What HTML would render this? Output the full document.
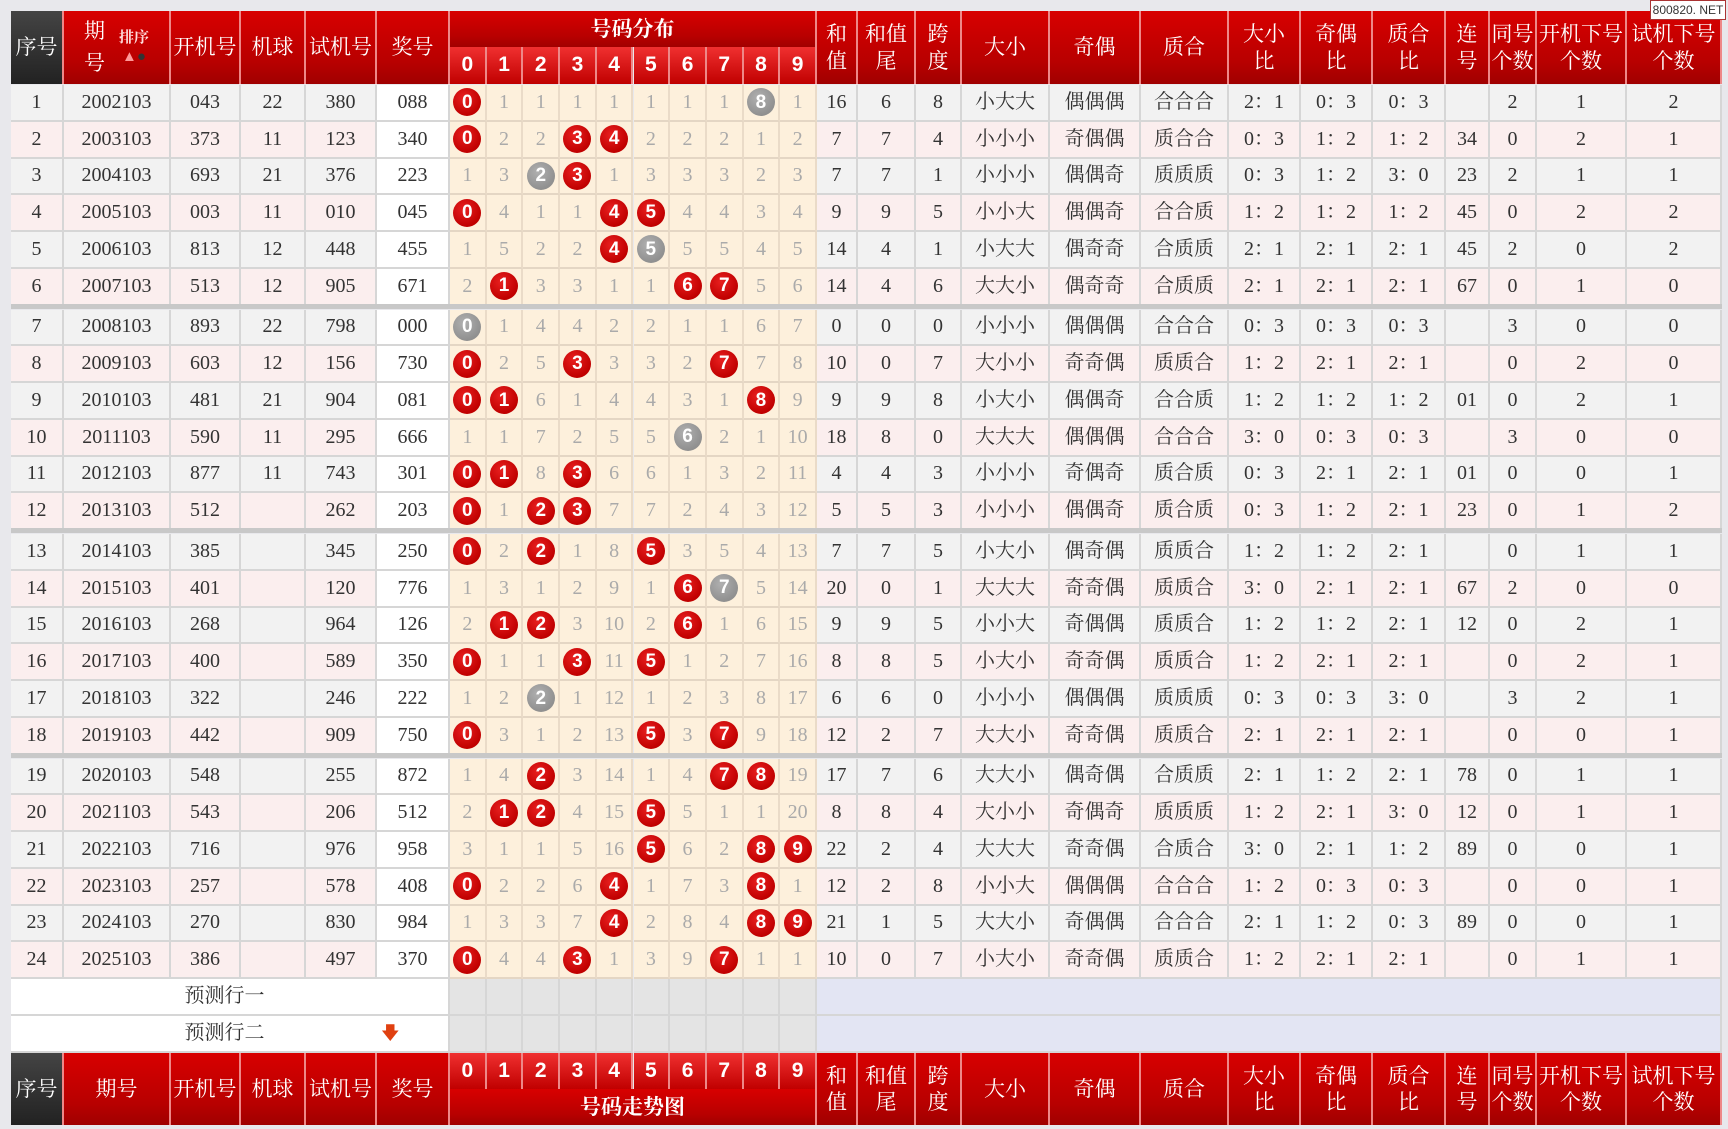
<!DOCTYPE html>
<html><head><meta charset="utf-8"><style>
body{margin:0;width:1728px;height:1129px;background:#e8e8ec;position:relative;overflow:hidden;font-family:"Liberation Serif","Noto Serif CJK SC",serif;}
.c{position:absolute;box-sizing:border-box;display:flex;align-items:center;justify-content:center;text-align:center;font-size:20px;color:#333;border-right:2px solid #d6d6d6;border-bottom:2px solid #d6d6d6;line-height:1.25}
.h{color:#fff;font-family:"Liberation Serif","Noto Serif CJK SC",serif;font-size:21px;background:linear-gradient(#d80000,#b80000 70%,#a00000);border-right:2px solid #e88;border-bottom:none}
.hd{background:linear-gradient(#444,#222)}
.hn{background:linear-gradient(#f03030,#c00000);font-weight:bold;font-size:21px;font-family:"Liberation Sans",sans-serif}
.d{background:#fdf0dc;border-right:2px solid #eadbc8;border-bottom:2px solid #e4d6c4;color:#aaa}
.b{width:28px;height:28px;border-radius:50%;background:radial-gradient(circle at 40% 35%,#e82020,#c00000 70%);color:#fff;font-weight:bold;font-family:"Liberation Sans",sans-serif;font-size:19px;display:flex;align-items:center;justify-content:center}
.g{background:radial-gradient(circle at 40% 35%,#b0b0b0,#909090 70%)}
</style></head><body>
<div id="t"></div>
<div style="position:absolute;left:1650px;top:0;width:76px;height:20px;background:#fff;border:1px solid #a33;font:12px 'Liberation Sans',sans-serif;color:#333;display:flex;align-items:center;justify-content:center;box-sizing:border-box">800820. NET</div>
<script>
var X=[11,64,171,241,306,377,450];for(var i=1;i<=10;i++)X.push(450+i*36.7);X=X.concat([858,916,962,1050,1141,1229,1301,1373,1446,1490,1537,1627,1722]);
var out=[];
function cell(x1,x2,y1,y2,cls,txt,st){out.push('<div class="c '+cls+'" style="left:'+x1+'px;top:'+y1+'px;width:'+(x2-x1)+'px;height:'+(y2-y1)+'px;'+(st||'')+'">'+txt+'</div>');}
var rh=["和<br>值","和值<br>尾","跨<br>度","大小","奇偶","质合","大小<br>比","奇偶<br>比","质合<br>比","连<br>号","同号<br>个数","开机下号<br>个数","试机下号<br>个数"];
function header(y1,y2,mid,top){
 cell(X[0],X[1],y1,y2,'h hd','序号');
 cell(X[1],X[2],y1,y2,'h',top?'<span style="display:inline-block;line-height:1.5">期<br>号</span><span style="font-size:15px;font-weight:bold;margin-left:14px;color:#fdd">排序<br><span style="color:#f99">▲</span><span style="color:#333">●</span></span>':'期号');
 var hh=['开机号','机球','试机号','奖号'];for(var i=0;i<4;i++)cell(X[2+i],X[3+i],y1,y2,'h',hh[i]);
 if(top){cell(X[6],X[16],y1,mid,'h','<b>号码分布</b>');for(i=0;i<10;i++)cell(X[6+i],X[7+i],mid,y2,'h hn',i);}
 else{for(i=0;i<10;i++)cell(X[6+i],X[7+i],y1,mid,'h hn',i);cell(X[6],X[16],mid,y2,'h','<b>号码走势图</b>');}
 for(i=0;i<13;i++)cell(X[16+i],X[17+i],y1,y2,'h',rh[i]);
}
header(11,84,47,1);
var R=[
["2002103","043","22","380","088","0R,1,1,1,1,1,1,1,8G,1","16 6 8 小大大 偶偶偶 合合合 2：1 0：3 0：3 - 2 1 2"],
["2003103","373","11","123","340","0R,2,2,3R,4R,2,2,2,1,2","7 7 4 小小小 奇偶偶 质合合 0：3 1：2 1：2 34 0 2 1"],
["2004103","693","21","376","223","1,3,2G,3R,1,3,3,3,2,3","7 7 1 小小小 偶偶奇 质质质 0：3 1：2 3：0 23 2 1 1"],
["2005103","003","11","010","045","0R,4,1,1,4R,5R,4,4,3,4","9 9 5 小小大 偶偶奇 合合质 1：2 1：2 1：2 45 0 2 2"],
["2006103","813","12","448","455","1,5,2,2,4R,5G,5,5,4,5","14 4 1 小大大 偶奇奇 合质质 2：1 2：1 2：1 45 2 0 2"],
["2007103","513","12","905","671","2,1R,3,3,1,1,6R,7R,5,6","14 4 6 大大小 偶奇奇 合质质 2：1 2：1 2：1 67 0 1 0"],
["2008103","893","22","798","000","0G,1,4,4,2,2,1,1,6,7","0 0 0 小小小 偶偶偶 合合合 0：3 0：3 0：3 - 3 0 0"],
["2009103","603","12","156","730","0R,2,5,3R,3,3,2,7R,7,8","10 0 7 大小小 奇奇偶 质质合 1：2 2：1 2：1 - 0 2 0"],
["2010103","481","21","904","081","0R,1R,6,1,4,4,3,1,8R,9","9 9 8 小大小 偶偶奇 合合质 1：2 1：2 1：2 01 0 2 1"],
["2011103","590","11","295","666","1,1,7,2,5,5,6G,2,1,10","18 8 0 大大大 偶偶偶 合合合 3：0 0：3 0：3 - 3 0 0"],
["2012103","877","11","743","301","0R,1R,8,3R,6,6,1,3,2,11","4 4 3 小小小 奇偶奇 质合质 0：3 2：1 2：1 01 0 0 1"],
["2013103","512","","262","203","0R,1,2R,3R,7,7,2,4,3,12","5 5 3 小小小 偶偶奇 质合质 0：3 1：2 2：1 23 0 1 2"],
["2014103","385","","345","250","0R,2,2R,1,8,5R,3,5,4,13","7 7 5 小大小 偶奇偶 质质合 1：2 1：2 2：1 - 0 1 1"],
["2015103","401","","120","776","1,3,1,2,9,1,6R,7G,5,14","20 0 1 大大大 奇奇偶 质质合 3：0 2：1 2：1 67 2 0 0"],
["2016103","268","","964","126","2,1R,2R,3,10,2,6R,1,6,15","9 9 5 小小大 奇偶偶 质质合 1：2 1：2 2：1 12 0 2 1"],
["2017103","400","","589","350","0R,1,1,3R,11,5R,1,2,7,16","8 8 5 小大小 奇奇偶 质质合 1：2 2：1 2：1 - 0 2 1"],
["2018103","322","","246","222","1,2,2G,1,12,1,2,3,8,17","6 6 0 小小小 偶偶偶 质质质 0：3 0：3 3：0 - 3 2 1"],
["2019103","442","","909","750","0R,3,1,2,13,5R,3,7R,9,18","12 2 7 大大小 奇奇偶 质质合 2：1 2：1 2：1 - 0 0 1"],
["2020103","548","","255","872","1,4,2R,3,14,1,4,7R,8R,19","17 7 6 大大小 偶奇偶 合质质 2：1 1：2 2：1 78 0 1 1"],
["2021103","543","","206","512","2,1R,2R,4,15,5R,5,1,1,20","8 8 4 大小小 奇偶奇 质质质 1：2 2：1 3：0 12 0 1 1"],
["2022103","716","","976","958","3,1,1,5,16,5R,6,2,8R,9R","22 2 4 大大大 奇奇偶 合质合 3：0 2：1 1：2 89 0 0 1"],
["2023103","257","","578","408","0R,2,2,6,4R,1,7,3,8R,1","12 2 8 小小大 偶偶偶 合合合 1：2 0：3 0：3 - 0 0 1"],
["2024103","270","","830","984","1,3,3,7,4R,2,8,4,8R,9R","21 1 5 大大小 奇偶偶 合合合 2：1 1：2 0：3 89 0 0 1"],
["2025103","386","","497","370","0R,4,4,3R,1,3,9,7R,1,1","10 0 7 小大小 奇奇偶 质质合 1：2 2：1 2：1 - 0 1 1"]];
var y=85,H=36.75;
for(var r=0;r<24;r++){
 if(r&&r%6==0){out.push('<div style="position:absolute;left:11px;top:'+(y-2)+'px;width:1711px;height:5px;background:#c8c8c8"></div>');y+=4;}
 var bg=r%2?'#fbeeee':'#f2f2f2',st='background:'+bg,d=R[r],y2=y+H;
 cell(X[0],X[1],y,y2,'',r+1,st);
 for(var k=0;k<4;k++)cell(X[1+k],X[2+k],y,y2,'',d[k],st);
 cell(X[5],X[6],y,y2,'',d[4],'background:#fff');
 var dg=d[5].split(',');
 for(k=0;k<10;k++){var v=dg[k],t=v;if(/R$/.test(v))t='<div class="b">'+v[0]+'</div>';else if(/G$/.test(v))t='<div class="b g">'+v[0]+'</div>';cell(X[6+k],X[7+k],y,y2,'d',t);}
 var rs=d[6].split(' ');
 for(k=0;k<13;k++)cell(X[16+k],X[17+k],y,y2,'',rs[k]=='-'?'':rs[k],st);
 y=y2;
}
var p1=y,p2=y+37,p3=y+74;
cell(X[0],X[6],p1,p2,'','预测行一','background:#fff;padding-right:10px');
cell(X[0],X[6],p2,p3,'','预测行二<span style="position:absolute;left:370px;color:#e04010;font-size:18px;font-family:Liberation Sans,sans-serif">&#x1F847;</span>','background:#fff;padding-right:10px');
for(var k=0;k<10;k++){cell(X[6+k],X[7+k],p1,p2,'','','background:#e4e4e4');cell(X[6+k],X[7+k],p2,p3,'','','background:#e4e4e4');}
cell(X[16],X[29],p1,p2,'','','background:#e3e5f3');cell(X[16],X[29],p2,p3,'','','background:#e3e5f3');
header(p3,p3+72,p3+36,0);
document.getElementById('t').innerHTML=out.join('');
</script>
</body></html>
